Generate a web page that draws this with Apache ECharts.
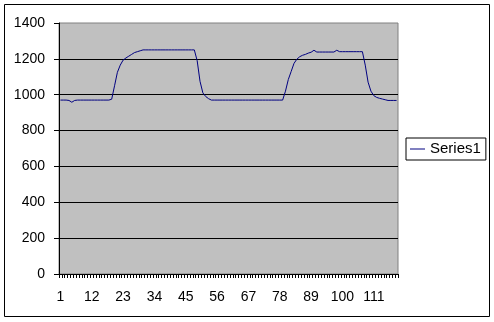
<!DOCTYPE html>
<html>
<head>
<meta charset="utf-8">
<script src="https://cdn.jsdelivr.net/npm/echarts@6/dist/echarts.min.js"></script>
<style>
html,body{margin:0;padding:0;background:#fff;}
#c{width:494px;height:322px;}
</style>
</head>
<body>
<div id="c"></div>
<script>
const seriesName = 'Series1';
const series1 = [
  970, 970, 970, 968, 958, 968,
  970, 970, 970, 970, 970, 970, 970, 970, 970, 970, 970, 970,
  975, 1050, 1125, 1165, 1193, 1205, 1215, 1225, 1235, 1240, 1245,
  1250, 1250, 1250, 1250, 1250, 1250, 1250, 1250, 1250, 1250,
  1250, 1250, 1250, 1250, 1250, 1250, 1250, 1250, 1250,
  1190, 1075, 1010, 990, 978,
  970, 970, 970, 970, 970, 970, 970, 970, 970, 970, 970, 970, 970,
  970, 970, 970, 970, 970, 970, 970, 970, 970, 970, 970, 970, 970,
  1020, 1085, 1130, 1175, 1198, 1212, 1220, 1225, 1232, 1237,
  1248,
  1238, 1238, 1238, 1238, 1238, 1238, 1238,
  1248,
  1240, 1240, 1240, 1240, 1240, 1240, 1240, 1240, 1240,
  1165, 1070, 1020, 995, 985, 980, 976, 972,
  968, 968, 968, 968
];
const categories = series1.map((v, i) => String(i + 1));
const yTicks = { min: 0, max: 1400, interval: 200 };

const font = "'Liberation Sans', Arial, sans-serif";
const chart = echarts.init(document.getElementById('c'), null, { renderer: 'canvas' });
chart.setOption({
  animation: false,
  backgroundColor: '#ffffff',
  graphic: [{
    type: 'rect',
    shape: { x: 4.5, y: 4.5, width: 485, height: 312 },
    style: { fill: 'none', stroke: '#000', lineWidth: 1 },
    silent: true, z: 100
  }],
  grid: {
    left: 59, top: 23, right: 96, bottom: 48,
    show: true, backgroundColor: '#c0c0c0', borderColor: '#808080', borderWidth: 1
  },
  legend: {
    data: [{ name: seriesName, icon: 'rect' }],
    left: 406, top: 138,
    orient: 'vertical',
    padding: [3, 5, 3, 4],
    borderColor: '#000', borderWidth: 1,
    itemWidth: 15, itemHeight: 1, itemGap: 5,
    itemStyle: { color: '#000080', borderWidth: 0 },
    textStyle: { fontFamily: font, fontSize: 15, color: '#000', lineHeight: 16 }
  },
  xAxis: {
    type: 'category',
    data: categories,
    boundaryGap: true,
    axisLine: { show: true, lineStyle: { color: '#000', width: 1 } },
    axisTick: { show: true, interval: 0, length: 4, lineStyle: { color: '#000' } },
    axisLabel: { interval: 10, margin: 16, fontFamily: font, fontSize: 14, color: '#000' },
    splitLine: { show: false }
  },
  yAxis: {
    type: 'value',
    min: yTicks.min, max: yTicks.max, interval: yTicks.interval,
    axisLine: { show: true, lineStyle: { color: '#000', width: 1 } },
    axisTick: { show: true, length: 5, lineStyle: { color: '#000' } },
    axisLabel: { margin: 14, fontFamily: font, fontSize: 14, color: '#000', formatter: v => String(v) },
    splitLine: { show: true, showMinLine: false, showMaxLine: false, lineStyle: { color: '#000', width: 1 } }
  },
  series: [{
    name: seriesName,
    type: 'line',
    data: series1,
    symbol: 'none',
    lineStyle: { color: '#000080', width: 1 },
    itemStyle: { color: '#000080' }
  }]
});
</script>
</body>
</html>
